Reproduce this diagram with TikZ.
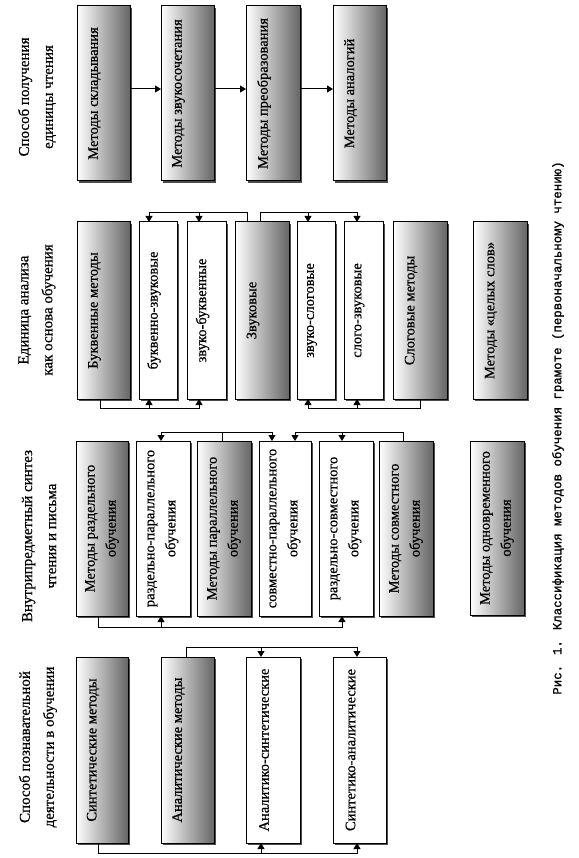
\documentclass[tikz,border=0pt]{standalone}
\usepackage{fontspec}
\setmainfont{Liberation Serif}
\newfontfamily\capfont[FakeBold=1.2]{Liberation Mono}
\newfontfamily\bxfont[FakeBold=0.6]{Liberation Serif}
\usetikzlibrary{arrows.meta,shadows,calc}
\tikzset{
  boxbase/.style={draw=black, line width=1pt, inner sep=0pt, outer sep=0pt, anchor=north west,
    drop shadow={shadow xshift=2pt, shadow yshift=-2pt, fill=black!70, opacity=1}},
  gbox/.style={boxbase, left color=white, right color=black!60},
  wbox/.style={boxbase, fill=white},
  txt/.style={rotate=90, align=center, inner sep=0pt, font=\bxfont\fontsize{14.5}{21}\selectfont},
  lbl/.style={rotate=90, align=center, inner sep=0pt, font=\bxfont\fontsize{15}{24}\selectfont},
  capt/.style={rotate=90, inner sep=0pt, font=\capfont\fontsize{12.4}{14}\selectfont},
  conn/.style={line width=1pt},
  arr/.style={conn, -{Triangle[length=6pt,width=7pt]}},
}
\begin{document}
\begin{tikzpicture}[x=1pt,y=-1pt]
\useasboundingbox (0,0) rectangle (578,858);

% ---------- labels ----------
\node[lbl] (L1) at (37,97) {Способ получения\\единицы чтения};
\node[lbl] (L2) at (37,310) {Единица анализа\\как основа обучения};
\node[lbl] (L3) at (39,536) {Внутрипредметный синтез\\чтения и письма};
\node[lbl] (L4) at (38,747) {Способ познавательной\\деятельности в обучении};
\node[capt] (cap) at (558,428) {Рис. 1. Классификация методов обучения грамоте (первоначальному чтению)};

% ---------- row 1 ----------
\node[gbox, minimum width=53pt, minimum height=175pt] (r1a) at (77,6) {};
\node[gbox, minimum width=53pt, minimum height=175pt] (r1b) at (161,6) {};
\node[gbox, minimum width=54pt, minimum height=175pt] (r1c) at (246,6) {};
\node[gbox, minimum width=53pt, minimum height=175pt] (r1d) at (333,6) {};
\node[txt] (t1a) at ([xshift=-9pt]r1a.center) {Методы складывания};
\node[txt] (t1b) at ([xshift=-9pt]r1b.center) {Методы звукосочетания};
\node[txt] (t1c) at ([xshift=-9pt]r1c.center) {Методы преобразования};
\node[txt] (t1d) at ([xshift=-9pt]r1d.center) {Методы аналогий};
\draw[arr] ([yshift=4.5pt]r1a.east) -- ([yshift=4.5pt]r1b.west);
\draw[arr] ([yshift=4.5pt]r1b.east) -- ([yshift=4.5pt]r1c.west);
\draw[arr] ([yshift=4.5pt]r1c.east) -- ([yshift=4.5pt]r1d.west);

% ---------- row 2 ----------
\node[gbox, minimum width=53pt, minimum height=177pt] (r2a) at (77,222) {};
\node[wbox, minimum width=38pt, minimum height=177pt] (r2b) at (139,222) {};
\node[wbox, minimum width=39pt, minimum height=177pt] (r2c) at (187,222) {};
\node[gbox, minimum width=54pt, minimum height=177pt] (r2d) at (235,222) {};
\node[wbox, minimum width=38pt, minimum height=177pt] (r2e) at (297,222) {};
\node[wbox, minimum width=39pt, minimum height=177pt] (r2f) at (344,222) {};
\node[gbox, minimum width=54pt, minimum height=177pt] (r2g) at (393,222) {};
\node[gbox, minimum width=54pt, minimum height=177pt] (r2h) at (473,222) {};
\node[txt] (t2a) at ([xshift=-9pt]r2a.center) {Буквенные методы};
\node[txt] (t2b) at ([xshift=-4pt]r2b.center) {буквенно-звуковые};
\node[txt] (t2c) at ([xshift=-4pt]r2c.center) {звуко-буквенные};
\node[txt] (t2d) at ([xshift=-9pt]r2d.center) {Звуковые};
\node[txt] (t2e) at ([xshift=-4pt]r2e.center) {звуко-слоговые};
\node[txt] (t2f) at ([xshift=-4pt]r2f.center) {слого-звуковые};
\node[txt] (t2g) at ([xshift=-9pt]r2g.center) {Слоговые методы};
\node[txt] (t2h) at ([xshift=-9pt]r2h.center) {Методы «целых слов»};
\draw[arr] ($(r2d.north west)+(12,0)$) -- ++(0,-9) -| ($(r2b.north west)+(10,0)$);
\draw[arr] ($(r2c.north west)+(12,-9)$) -- ++(0,9);
\draw[arr] ($(r2d.north west)+(25,0)$) -- ++(0,-9) -| ($(r2f.north west)+(13,0)$);
\draw[arr] ($(r2e.north west)+(11,-9)$) -- ++(0,9);
\draw[arr] ($(r2a.south west)+(23,0)$) -- ++(0,9) -| ($(r2c.south west)+(12,0)$);
\draw[arr] ($(r2b.south west)+(10,9)$) -- ++(0,-9);
\draw[arr] ($(r2g.south west)+(27,0)$) -- ++(0,9) -| ($(r2e.south west)+(11,0)$);
\draw[arr] ($(r2f.south west)+(13,9)$) -- ++(0,-9);

% ---------- row 3 ----------
\node[gbox, minimum width=52pt, minimum height=175pt] (r3a) at (76,441) {};
\node[wbox, minimum width=54pt, minimum height=175pt] (r3b) at (136,441) {};
\node[gbox, minimum width=54pt, minimum height=175pt] (r3c) at (197,441) {};
\node[wbox, minimum width=52pt, minimum height=175pt] (r3d) at (259,441) {};
\node[wbox, minimum width=54pt, minimum height=175pt] (r3e) at (319,441) {};
\node[gbox, minimum width=54pt, minimum height=175pt] (r3f) at (379,441) {};
\node[gbox, minimum width=54pt, minimum height=174pt] (r3g) at (470,441) {};
\node[txt] (t3a) at (r3a.center) {Методы раздельного\\обучения};
\node[txt] (t3b) at (r3b.center) {раздельно-параллельного\\обучения};
\node[txt] (t3c) at (r3c.center) {Методы параллельного\\обучения};
\node[txt] (t3d) at (r3d.center) {совместно-параллельного\\обучения};
\node[txt] (t3e) at (r3e.center) {раздельно-совместного\\обучения};
\node[txt] (t3f) at (r3f.center) {Методы совместного\\обучения};
\node[txt] (t3g) at (r3g.center) {Методы одновременного\\обучения};
\draw[arr] ($(r3c.north west)+(25,0)$) -- ++(0,-9) -| ($(r3b.north west)+(25,0)$);
\draw[arr] ($(r3c.north west)+(25,-9)$) -| ($(r3d.north west)+(13,0)$);
\draw[arr] ($(r3f.north west)+(24,0)$) -- ++(0,-9) -| ($(r3d.north west)+(36,0)$);
\draw[arr] ($(r3e.north west)+(23,-9)$) -- ++(0,9);
\draw[arr] ($(r3a.south west)+(22,0)$) -- ++(0,11) -| ($(r3e.south west)+(23,0)$);
\draw[arr] ($(r3b.south west)+(25,11)$) -- ++(0,-11);

% ---------- row 4 ----------
\node[gbox, minimum width=52pt, minimum height=186pt] (r4a) at (76,657) {};
\node[gbox, minimum width=53pt, minimum height=186pt] (r4b) at (161,657) {};
\node[wbox, minimum width=54pt, minimum height=186pt] (r4c) at (246,657) {};
\node[wbox, minimum width=53pt, minimum height=186pt] (r4d) at (333,657) {};
\node[txt] (t4a) at ([xshift=-9pt]r4a.center) {Синтетические методы};
\node[txt] (t4b) at ([xshift=-9pt]r4b.center) {Аналитические методы};
\node[txt] (t4c) at ([xshift=-9pt]r4c.center) {Аналитико-синтетические};
\node[txt] (t4d) at ([xshift=-9pt]r4d.center) {Синтетико-аналитические};
\draw[arr] ($(r4b.north west)+(25,0)$) -- ++(0,-10) -| ($(r4d.north west)+(24,0)$);
\draw[arr] ($(r4c.north west)+(15,-10)$) -- ++(0,10);
\draw[arr] ($(r4a.south west)+(22,0)$) -- ++(0,10) -| ($(r4d.south west)+(24,0)$);
\draw[arr] ($(r4c.south west)+(15,10)$) -- ++(0,-10);
\end{tikzpicture}
\end{document}
